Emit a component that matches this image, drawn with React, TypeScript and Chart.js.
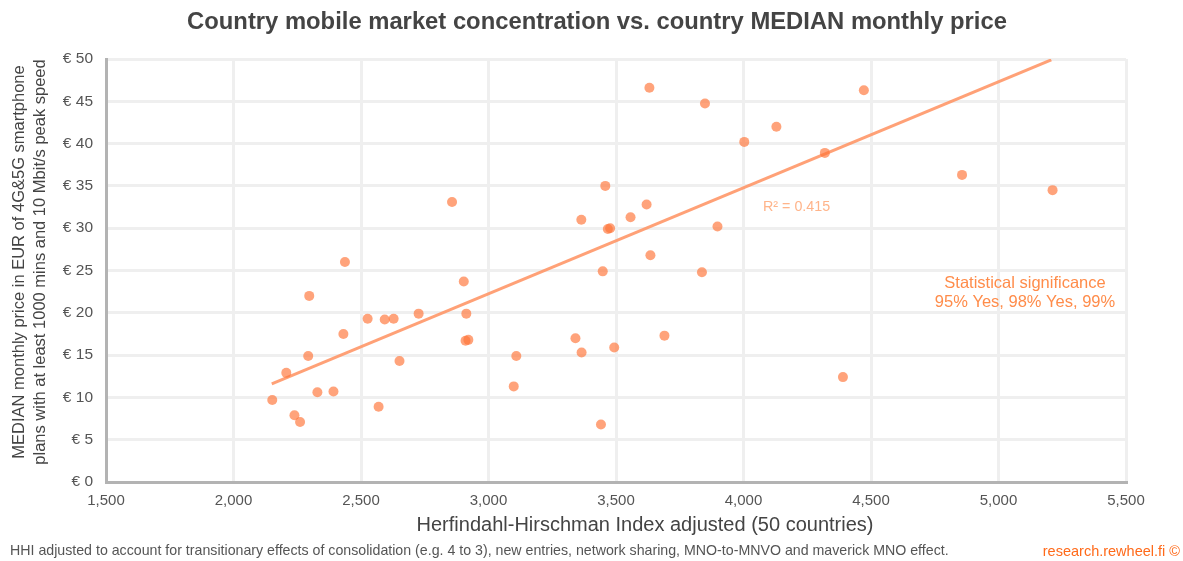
import React, { useEffect, useRef } from "react";
import { Chart, registerables } from "chart.js";

Chart.register(...registerables);

const TITLE = "Country mobile market concentration vs. country MEDIAN monthly price";
const Y_TITLE = [
  "MEDIAN monthly price in EUR of 4G&5G smartphone",
  "plans with at least 1000 mins and 10 Mbit/s peak speed",
];
const X_TITLE = "Herfindahl-Hirschman Index adjusted (50 countries)";
const FOOTNOTE =
  "HHI adjusted to account for transitionary effects of consolidation (e.g. 4 to 3), new entries, network sharing, MNO-to-MNVO and maverick MNO effect.";
const SOURCE = "research.rewheel.fi ©";
const R2_LABEL = "R² = 0.415";
const SIG_LINES = ["Statistical significance", "95% Yes, 98% Yes, 99%"];

const hhi = [
  2152, 2207, 2239, 2261, 2297, 2293, 2329, 2392, 2431, 2437, 2526, 2569, 2593, 2628, 2651, 2726,
  2857, 2903, 2913, 2910, 2921, 3099, 3109, 3341, 3365, 3364, 3441, 3448, 3458, 3468, 3477, 3493,
  3557, 3620, 3631, 3635, 3690, 3837, 3849, 3898, 4003, 4129, 4319, 4390, 4472, 4857, 5212,
];
const medianPrice = [
  9.7, 12.9, 7.9, 7.1, 22.0, 14.9, 10.6, 10.7, 17.5, 26.0, 19.3, 8.9, 19.2, 19.3, 14.3, 19.9,
  33.1, 23.7, 19.9, 16.7, 16.8, 11.3, 14.9, 17.0, 15.3, 31.0, 6.8, 24.9, 35.0, 29.9, 30.0, 15.9,
  31.3, 32.8, 46.6, 26.8, 17.3, 24.8, 44.75, 30.2, 40.2, 42.0, 38.9, 12.4, 46.3, 36.3, 34.5,
];
const trendX = [2150, 5207];
const trendY = [11.6, 49.9];

const FONT = "'Liberation Sans', Arial, Helvetica, sans-serif";

const textPlugin = {
  id: "textPlugin",
  afterDraw(chart: any) {
    const ctx = chart.ctx as CanvasRenderingContext2D;
    ctx.save();
    // Title
    ctx.fillStyle = "#444";
    ctx.font = `bold 23.8px ${FONT}`;
    ctx.textAlign = "center";
    ctx.textBaseline = "middle";
    ctx.fillText(TITLE, 597, 22);
    // X title
    ctx.font = `20px ${FONT}`;
    ctx.fillStyle = "#444";
    ctx.fillText(X_TITLE, 645, 525);
    // Y title
    ctx.save();
    ctx.translate(0, 262);
    ctx.rotate(-Math.PI / 2);
    ctx.font = `16.5px ${FONT}`;
    ctx.fillStyle = "#444";
    ctx.fillText(Y_TITLE[0], 0, 19.5);
    ctx.fillText(Y_TITLE[1], 0, 40);
    ctx.restore();
    // Footnote
    ctx.textAlign = "left";
    ctx.font = `14.2px ${FONT}`;
    ctx.fillStyle = "#555";
    ctx.fillText(FOOTNOTE, 10, 551);
    ctx.textAlign = "right";
    ctx.font = `14.5px ${FONT}`;
    ctx.fillStyle = "#FF6A1A";
    ctx.fillText(SOURCE, 1180, 552);
    // R2
    ctx.textAlign = "left";
    ctx.font = `14.3px ${FONT}`;
    ctx.fillStyle = "#FFB48A";
    ctx.fillText(R2_LABEL, 763, 207);
    // significance
    ctx.textAlign = "center";
    ctx.font = `16.5px ${FONT}`;
    ctx.fillStyle = "#FF8C4A";
    ctx.fillText(SIG_LINES[0], 1025, 283);
    ctx.fillText(SIG_LINES[1], 1025, 302);
    ctx.restore();
  },
};

export default function App() {
  const ref = useRef<HTMLCanvasElement>(null);
  useEffect(() => {
    if (!ref.current) return;
    const chart = new Chart(ref.current, {
      type: "scatter",
      data: {
        datasets: [
          {
            type: "scatter",
            label: "Countries",
            data: hhi.map((x, i) => ({ x, y: medianPrice[i] })),
            backgroundColor: "rgba(255,115,55,0.66)",
            borderWidth: 0,
            pointRadius: 5,
            order: 0,
          },
          {
            type: "line",
            label: "Trend",
            data: trendX.map((x, i) => ({ x, y: trendY[i] })),
            borderColor: "rgba(255,145,95,0.85)",
            borderWidth: 3,
            pointRadius: 0,
            fill: false,
            order: 1,
          } as any,
        ],
      },
      options: {
        responsive: false,
        animation: false,
        layout: { padding: { left: 0, top: 59, right: 57, bottom: 0 } },
        plugins: {
          legend: { display: false },
          title: { display: false },
          tooltip: { enabled: false },
        },
        scales: {
          x: {
            type: "linear",
            min: 1500,
            max: 5500,
            afterFit: (s: any) => {
              s.height = 79;
            },
            ticks: {
              stepSize: 500,
              padding: 10,
              color: "#555",
              font: { family: FONT, size: 15 },
              callback: (v: any) => Number(v).toLocaleString("en-US"),
            },
            grid: { color: "#efefef", lineWidth: 3, drawTicks: false },
            border: { color: "#b3b3b3", width: 3 },
          },
          y: {
            type: "linear",
            min: 0,
            max: 50,
            afterFit: (s: any) => {
              s.width = 106;
            },
            ticks: {
              stepSize: 5,
              padding: 13,
              color: "#555",
              font: { family: FONT, size: 15.5 },
              callback: (v: any) => "€ " + v,
            },
            grid: { color: "#efefef", lineWidth: 3, drawTicks: false },
            border: { color: "#b3b3b3", width: 3 },
          },
        },
      },
      plugins: [textPlugin],
    });
    return () => chart.destroy();
  }, []);
  return (
    <div style={{ position: "absolute", left: 0, top: 0, width: 1183, height: 561, background: "#fff" }}>
      <canvas ref={ref} width={1183} height={561} />
    </div>
  );
}
